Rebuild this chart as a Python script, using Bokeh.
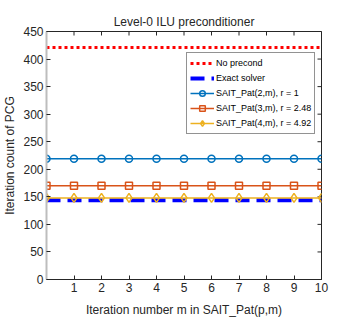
import math
from bokeh.plotting import figure
from bokeh.models import Legend, LegendItem, FixedTicker, Range1d
from bokeh.embed import file_html
from bokeh.resources import INLINE

m = list(range(0, 11))
no_precond = [421] * 11
exact = [144] * 11
sait2 = [219] * 11
sait3 = [170] * 11
sait4 = [148] * 11
x_ticks = [1, 2, 3, 4, 5, 6, 7, 8, 9, 10]
y_ticks = [0, 50, 100, 150, 200, 250, 300, 350, 400, 450]

FONT = "Liberation Sans"
p = figure(width=346, height=319, output_backend="svg", toolbar_location=None,
           x_range=Range1d(0, 10), y_range=Range1d(0, 450),
           title="Level-0 ILU preconditioner",
           min_border_left=38, min_border_right=25, min_border_top=31, min_border_bottom=40)
p.title.align = "center"
p.title.text_font = FONT
p.title.text_font_size = "12px"
p.title.text_font_style = "normal"
p.title.text_color = "#262626"
p.title.standoff = 5

p.grid.visible = False
p.outline_line_color = "#262626"
p.outline_line_width = 1

for ax in (p.xaxis[0], p.yaxis[0]):
    ax.major_tick_in = 4
    ax.major_tick_out = 0
    ax.minor_tick_in = 0
    ax.minor_tick_out = 0
    ax.axis_line_color = "#262626"
    ax.major_tick_line_color = "#262626"
    ax.major_label_text_font = FONT
    ax.major_label_text_font_size = "12px"
    ax.major_label_text_color = "#262626"
    ax.major_label_standoff = 3
    ax.axis_label_text_font = FONT
    ax.axis_label_text_font_size = "12px"
    ax.axis_label_text_font_style = "normal"
    ax.axis_label_text_color = "#262626"
p.yaxis.axis_line_color = "#bdbdbd"
p.yaxis.axis_line_width = 2
p.xaxis.ticker = FixedTicker(ticks=x_ticks)
p.yaxis.ticker = FixedTicker(ticks=y_ticks)
p.xaxis.axis_label = "Iteration number m in SAIT_Pat(p,m)"
p.yaxis.axis_label = "Iteration count of PCG"
p.xaxis.axis_label_standoff = 8
p.yaxis.axis_label_standoff = 3

# mirrored tick marks on the top and right edges (box on); clipped by the frame
p.scatter(x_ticks, [y_ticks[-1]] * len(x_ticks), marker="dash", angle=math.pi / 2,
          size=8, line_color="#262626", line_width=1)
p.scatter([10] * len(y_ticks), y_ticks, marker="dash", size=8,
          line_color="#262626", line_width=1)

r1 = p.line(m, no_precond, line_color="#ff0000", line_width=3, line_dash="3 3")
r2 = p.line(m, exact, line_color="#0000ff", line_width=4, line_dash="14 7")
c2 = "#0072bd"; c3 = "#d95319"; c4 = "#edb120"
r3 = p.line(m, sait2, line_color=c2, line_width=1.5)
r3m = p.scatter(m, sait2, marker="circle", size=7, line_color=c2, fill_color=None, line_width=1.5)
r4 = p.line(m, sait3, line_color=c3, line_width=1.5)
r4m = p.scatter(m, sait3, marker="square", size=7, line_color=c3, fill_color=None, line_width=1.5)
r5 = p.line(m, sait4, line_color=c4, line_width=1.5)
r5m = p.scatter(m, sait4, marker="diamond", size=9, line_color=c4, fill_color=None, line_width=1.5)

legend = Legend(items=[
    LegendItem(label="No precond", renderers=[r1]),
    LegendItem(label="Exact solver", renderers=[r2]),
    LegendItem(label="SAIT_Pat(2,m), r = 1", renderers=[r3, r3m]),
    LegendItem(label="SAIT_Pat(3,m), r = 2.48", renderers=[r4, r4m]),
    LegendItem(label="SAIT_Pat(4,m), r = 4.92", renderers=[r5, r5m]),
], location=(140, 145))
legend.label_text_font = FONT
legend.label_text_font_size = "9px"
legend.label_text_color = "#000000"
legend.glyph_width = 24
legend.glyph_height = 14
legend.label_height = 14
legend.spacing = 1
legend.padding = 3
legend.margin = 0
legend.label_standoff = 2
legend.border_line_color = "#262626"
legend.border_line_width = 1
legend.background_fill_alpha = 1
p.add_layout(legend, "center")

open("out.html", "w").write(file_html(p, INLINE))
